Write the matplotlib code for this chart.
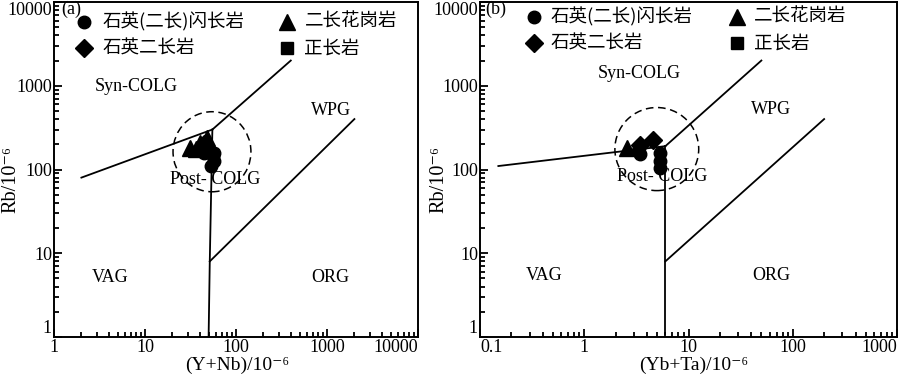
import matplotlib
matplotlib.use("Agg")
import matplotlib.pyplot as plt
import numpy as np
from matplotlib.patches import Ellipse
from matplotlib.ticker import LogLocator, NullFormatter, FixedFormatter, FixedLocator

plt.rcParams['font.family'] = ['Liberation Serif', 'DejaVu Serif', 'Noto Sans CJK SC', 'DejaVu Sans']
plt.rcParams['mathtext.fontset'] = 'stix'

# ---- data ----
series_names = ["石英(二长)闪长岩", "二长花岗岩", "石英二长岩", "正长岩"]

# panel (a): Rb vs Y+Nb
a_circle_x = [44.8, 57.8, 57.8, 53.0, 56.0]
a_circle_y = [158, 158, 128, 110, 145]
a_tri_x = [31.2, 40.0, 47.6, 36.0]
a_tri_y = [183, 209, 240, 175]
a_dia_x = [42.0, 45.0]
a_dia_y = [182, 200]
a_sq_x = []
a_sq_y = []

# panel (b): Rb vs Yb+Ta
b_circle_x = [3.45, 5.3, 5.3, 5.35, 3.3]
b_circle_y = [152, 159, 126, 105, 165]
b_tri_x = [2.58]
b_tri_y = [182]
b_dia_x = [3.4, 4.58]
b_dia_y = [195, 226]
b_sq_x = []
b_sq_y = []

# discrimination boundaries (Pearce et al., 1984)
a_b1_x = [2, 55]; a_b1_y = [80, 300]
a_b2_x = [55, 400]; a_b2_y = [300, 2000]
a_b3_x = [55, 51.5, 50]; a_b3_y = [300, 8, 1]
a_b4_x = [51.5, 2000]; a_b4_y = [8, 400]

b_b1_x = [0.15, 6]; b_b1_y = [110, 190]
b_b2_x = [6, 50]; b_b2_y = [190, 2000]
b_b3_x = [6, 6]; b_b3_y = [190, 1.1]
b_b4_x = [6, 200]; b_b4_y = [8, 400]

a_xticks = [1, 10, 100, 1000, 10000]
a_xticklabels = ["1", "10", "100", "1000", "10000"]
b_xticks = [0.1, 1, 10, 100, 1000]
b_xticklabels = ["0.1", "1", "10", "100", "1000"]
yticks = [1, 10, 100, 1000, 10000]
yticklabels = ["1", "10", "100", "1000", "10000"]

fig = plt.figure(figsize=(9, 3.74), dpi=100)
ax_a = fig.add_axes([54/900, 37/374, 364/900, 335/374])
ax_b = fig.add_axes([480/900, 37/374, 417/900, 335/374])

def style(ax, xlim, xticks, xlabels, xlabel, ylab_x, xlab_x):
    ax.set_xscale('log'); ax.set_yscale('log')
    ax.set_xlim(*xlim); ax.set_ylim(1, 10000)
    ax.xaxis.set_major_locator(FixedLocator(xticks))
    ax.xaxis.set_major_formatter(FixedFormatter(xlabels))
    ax.xaxis.set_minor_locator(LogLocator(base=10, subs=np.arange(2, 10)))
    ax.xaxis.set_minor_formatter(NullFormatter())
    ax.yaxis.set_major_locator(FixedLocator(yticks))
    ax.yaxis.set_major_formatter(FixedFormatter(yticklabels))
    ax.yaxis.set_minor_locator(LogLocator(base=10, subs=np.arange(2, 10)))
    ax.yaxis.set_minor_formatter(NullFormatter())
    ax.tick_params(which='both', direction='in', top=False, right=False, width=1.3, labelsize=13, pad=1.5)
    ax.tick_params(which='major', length=6)
    ax.tick_params(which='minor', length=3.5)
    for s in ax.spines.values():
        s.set_linewidth(1.4)
    ax.set_xlabel(xlabel, fontsize=14)
    ax.set_ylabel('Rb/10⁻⁶', fontsize=14.5)
    ax.yaxis.set_label_coords(ylab_x, 0.47)
    ax.xaxis.set_label_coords(xlab_x, -0.110)
    ax.xaxis.label.set_va('bottom')
    ax.yaxis.label.set_va('center')

style(ax_a, (1, 10000), a_xticks, a_xticklabels, '(Y+Nb)/10⁻⁶', -0.118, 0.502)
style(ax_b, (0.1, 1000), b_xticks, b_xticklabels, '(Yb+Ta)/10⁻⁶', -0.098, 0.513)

for ax, first_left in [(ax_a, False), (ax_b, True)]:
    xl = ax.get_xticklabels()
    xl[-1].set_ha('right')
    if first_left:
        xl[0].set_ha('left')
    yl = ax.get_yticklabels()
    yl[-1].set_va('top')
    yl[0].set_va('bottom')

lkw = dict(color='black', lw=1.3)
for ax, lines in [(ax_a, [(a_b1_x, a_b1_y), (a_b2_x, a_b2_y), (a_b3_x, a_b3_y), (a_b4_x, a_b4_y)]),
                  (ax_b, [(b_b1_x, b_b1_y), (b_b2_x, b_b2_y), (b_b3_x, b_b3_y), (b_b4_x, b_b4_y)])]:
    for xs, ys in lines:
        ax.plot(xs, ys, **lkw)

# dashed circles (axes fractions)
ax_a.add_patch(Ellipse((0.434, 0.553), 0.214, 0.239, transform=ax_a.transAxes,
                       fill=False, ls=(0, (5, 3)), lw=1.1, color='black'))
ax_b.add_patch(Ellipse((0.424, 0.561), 0.201, 0.248, transform=ax_b.transAxes,
                       fill=False, ls=(0, (5, 3)), lw=1.1, color='black'))

markers = ['o', '^', 'D', 's']
msizes = [9, 12, 9, 8.5]

def pts(ax, cx, cy, tx, ty, dx, dy, sx, sy):
    for (xs, ys), m, s in zip([(cx, cy), (tx, ty), (dx, dy), (sx, sy)], markers, msizes):
        ax.plot(xs, ys, marker=m, ms=s, color='black', ls='none')

pts(ax_a, a_circle_x, a_circle_y, a_tri_x, a_tri_y, a_dia_x, a_dia_y, a_sq_x, a_sq_y)
pts(ax_b, b_circle_x, b_circle_y, b_tri_x, b_tri_y, b_dia_x, b_dia_y, b_sq_x, b_sq_y)

# manual legends: order circle, triangle (row 1); diamond, square (row 2)
def legend(ax, mx1, tx1, mx2, tx2, y1, y2):
    slots = [(mx1, tx1, y1), (mx2, tx2, y1), (mx1, tx1, y2), (mx2, tx2, y2)]
    for i, (mx, tx, y) in enumerate(slots):
        ax.plot([mx], [y], marker=markers[i], ms=msizes[i], color='black', ls='none',
                transform=ax.transAxes, clip_on=False)
        ax.text(tx, y, series_names[i], transform=ax.transAxes, ha='left', va='center',
                fontsize=13.3, family=['Noto Sans CJK SC'])

legend(ax_a, 0.082, 0.133, 0.639, 0.688, 0.941, 0.862)
legend(ax_b, 0.129, 0.170, 0.616, 0.657, 0.956, 0.877)

tkw = dict(fontsize=13, ha='center', va='center')
ax_a.text(0.021, 0.979, '(a)', transform=ax_a.transAxes, ha='left', va='center', fontsize=13)
ax_b.text(0.012, 0.979, '(b)', transform=ax_b.transAxes, ha='left', va='center', fontsize=13)
for ax, labs in [(ax_a, [('Syn-COLG', 0.225, 0.749), ('WPG', 0.760, 0.675), ('Post- COLG', 0.442, 0.469),
                         ('VAG', 0.154, 0.178), ('ORG', 0.760, 0.178)]),
                 (ax_b, [('Syn-COLG', 0.381, 0.787), ('WPG', 0.697, 0.680), ('Post- COLG', 0.438, 0.479),
                         ('VAG', 0.154, 0.185), ('ORG', 0.698, 0.185)])]:
    for t, x, y in labs:
        ax.text(x, y, t, transform=ax.transAxes, **tkw)

fig.savefig('out.png', dpi=100)
